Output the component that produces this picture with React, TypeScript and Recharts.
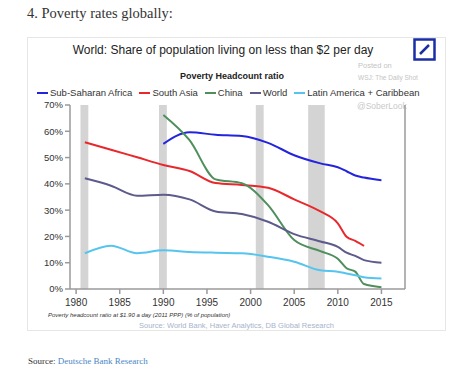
import React from "react";
import { LineChart, Line, XAxis, YAxis, ReferenceArea, Legend } from "recharts";

const years = [1981, 1984, 1987, 1990, 1993, 1996, 1999, 2002, 2005, 2008, 2010, 2011, 2012, 2013, 2015];

// % of population below $1.90/day, null where the series has no value
const subSaharanAfrica = [null, null, null, 55.2, 59.6, 58.7, 58.2, 55.6, 50.9, 47.8, 46.3, 44.8, 43.2, 42.4, 41.4];
const southAsia = [55.8, 53.0, 50.1, 47.2, 44.9, 40.3, 39.6, 38.5, 34.1, 29.5, 25.0, 19.9, 18.3, 16.4, null];
const china = [null, null, null, 66.2, 56.6, 41.7, 40.2, 31.9, 18.6, 14.4, 11.5, 7.9, 6.6, 1.9, 0.7];
const world = [42.1, 39.3, 35.5, 35.9, 34.1, 29.5, 28.5, 25.6, 20.9, 18.1, 16.0, 13.8, 12.6, 11.0, 10.0];
const latinAmerica = [13.6, 16.5, 13.6, 14.7, 14.1, 13.8, 13.6, 12.3, 10.4, 7.1, 6.6, 5.9, 5.2, 4.5, 4.0];

const seriesNames = ["Sub-Saharan Africa", "South Asia", "China", "World", "Latin America + Caribbean"];
const seriesColors = ["#2424dc", "#e8282c", "#4e8f5c", "#5d5b8c", "#55c4ee"];

// shaded recession bands [start, end]
const recessions = [
  [1980.5, 1981.4],
  [1989.5, 1990.4],
  [2000.6, 2001.5],
  [2006.6, 2008.5],
];

const xTicks = [1980, 1985, 1990, 1995, 2000, 2005, 2010, 2015];
const yTicks = [0, 10, 20, 30, 40, 50, 60, 70];

const seriesValues = [subSaharanAfrica, southAsia, china, world, latinAmerica];
const data = years.map((year, i) => {
  const row: Record<string, number | null> = { year };
  seriesNames.forEach((name, s) => {
    row[name] = seriesValues[s][i];
  });
  return row;
});

const sans = "'Liberation Sans', Arial, Helvetica, sans-serif";
const axisColor = "#9a9a9a";

const renderLegend = (props: any) => {
  const payload = [...(props.payload || [])].sort(
    (a: any, b: any) => seriesNames.indexOf(a.value) - seriesNames.indexOf(b.value)
  );
  return (
    <div style={{ display: "flex", fontFamily: sans, fontSize: 9.5, color: "#333", whiteSpace: "nowrap" }}>
      {payload.map((entry: any) => (
        <div key={entry.value} style={{ display: "flex", alignItems: "center", marginRight: 7 }}>
          <span style={{ display: "inline-block", width: 11, height: 2, background: entry.color, marginRight: 2 }} />
          <span>{entry.value}</span>
        </div>
      ))}
    </div>
  );
};

const App = () => {
  return (
    <div style={{ position: "absolute", left: 0, top: 0, width: 474, height: 377, background: "#fff" }}>
      <div style={{ position: "absolute", left: 27, top: 5, fontFamily: "'Liberation Serif', 'Times New Roman', serif", fontSize: 14.5, color: "#333" }}>
        4. Poverty rates globally:
      </div>

      {/* card */}
      <div style={{ position: "absolute", left: 27, top: 37, width: 419, height: 294, border: "1px solid #e6e6e6", boxSizing: "border-box" }} />

      <div style={{ position: "absolute", left: 27, width: 392, top: 43, textAlign: "center", fontFamily: sans, fontSize: 12, color: "#222" }}>
        World: Share of population living on less than $2 per day
      </div>

      <svg style={{ position: "absolute", left: 413, top: 38 }} width={23} height={23}>
        <rect x={1.5} y={1.5} width={20} height={20} fill="#fff" stroke="#1a2ea6" strokeWidth={2.5} />
        <line x1={7} y1={16} x2={16} y2={7} stroke="#1a2ea6" strokeWidth={2.5} />
      </svg>

      <div style={{ position: "absolute", left: 358, top: 60, fontFamily: sans, fontSize: 7.5, color: "#c4c4c4", lineHeight: "12px" }}>
        <div>Posted on</div>
        <div style={{ fontSize: 6.5 }}>WSJ: The Daily Shot</div>
      </div>
      <div style={{ position: "absolute", left: 357, top: 101, fontFamily: sans, fontSize: 8.5, color: "#c8c8c8" }}>@SoberLook</div>

      <div style={{ position: "absolute", left: 27, width: 410, top: 71, textAlign: "center", fontFamily: sans, fontSize: 9, fontWeight: "bold", color: "#222" }}>
        Poverty Headcount ratio
      </div>

      <div style={{ position: "absolute", left: 0, top: 0 }}>
        <LineChart width={474} height={377} data={data} margin={{ top: 105, right: 29, bottom: 58, left: 30 }}>
          {recessions.map(([a, b]) => (
            <ReferenceArea key={a} x1={a} x2={b} y1={0} y2={70} yAxisId="left" fill="#d4d4d4" fillOpacity={1} stroke="none" ifOverflow="hidden" />
          ))}
          <XAxis
            dataKey="year"
            type="number"
            domain={[1979.3, 2017.7]}
            ticks={xTicks}
            allowDataOverflow
            height={30}
            tick={{ fontSize: 10, fill: "#333", fontFamily: sans }}
            stroke={axisColor}
            strokeWidth={1.5}
            tickSize={5}
            tickMargin={5}
          />
          <YAxis
            yAxisId="left"
            domain={[0, 70]}
            ticks={yTicks}
            width={40}
            tickFormatter={(v) => `${v}%`}
            tick={{ fontSize: 9.5, fill: "#333", fontFamily: sans }}
            stroke={axisColor}
            strokeWidth={1.5}
            tickSize={5}
          />
          <YAxis
            yAxisId="right"
            orientation="right"
            domain={[0, 70]}
            ticks={yTicks}
            width={40}
            tickFormatter={(v) => `${v}%`}
            tick={{ fontSize: 9.5, fill: "#333", fontFamily: sans }}
            stroke={axisColor}
            strokeWidth={1.5}
            tickSize={5}
          />
          <Legend verticalAlign="middle" align="center" wrapperStyle={{ top: 87, left: 37, width: 400 }} content={renderLegend} />
          {seriesNames.map((name, s) => (
            <Line
              key={name}
              yAxisId="left"
              type="monotone"
              dataKey={name}
              name={name}
              stroke={seriesColors[s]}
              strokeWidth={2}
              dot={false}
              isAnimationActive={false}
            />
          ))}
        </LineChart>
      </div>

      <div style={{ position: "absolute", left: 48, top: 312, fontFamily: sans, fontSize: 6, fontStyle: "italic", color: "#333" }}>
        Poverty headcount ratio at $1.90 a day (2011 PPP) (% of population)
      </div>
      <div style={{ position: "absolute", left: 27, width: 419, top: 321, textAlign: "center", fontFamily: sans, fontSize: 7.5, color: "#a6b4cc" }}>
        Source: World Bank, Haver Analytics, DB Global Research
      </div>

      <div style={{ position: "absolute", left: 28, top: 356, fontFamily: "'Liberation Serif', 'Times New Roman', serif", fontSize: 9, color: "#333" }}>
        Source: <span style={{ color: "#4a86c5" }}>Deutsche Bank Research</span>
      </div>
    </div>
  );
};

export default App;
